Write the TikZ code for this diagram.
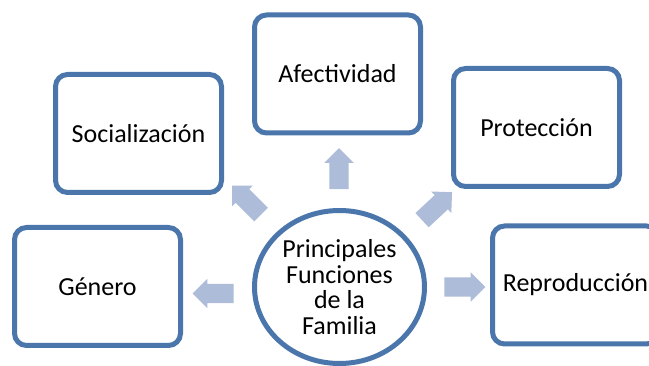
\documentclass[tikz,border=0pt]{standalone}
\usepackage{fontspec}
\setmainfont{Carlito}
\usetikzlibrary{shapes.geometric,shapes.arrows}
\definecolor{borde}{RGB}{74,118,172}
\definecolor{flecha}{RGB}{172,188,217}
\begin{document}
\begin{tikzpicture}[x=1pt,y=-1pt, line join=round,
	font=\fontsize{26}{25.7}\selectfont,
	funcion/.style={draw=borde, line width=5pt, rounded corners=12pt, fill=white,
		minimum width=166pt, minimum height=118pt, inner sep=0pt},
	centro/.style={draw=borde, line width=5pt, ellipse, fill=white, align=center,
		minimum width=170pt, minimum height=153pt, inner sep=0pt},
	bloque/.style={single arrow, fill=flecha, draw=none, inner xsep=0pt, inner ysep=9.5pt,
		minimum height=41pt, single arrow head extend=5pt}]
	\useasboundingbox (0,0) rectangle (649,366);
	\foreach \n/\x/\y/\t in {soc/138.5/133.5/Socialización, afe/337.5/74/Afectividad,
		pro/536.5/127.5/Protección, gen/97.5/286.5/Género, rep/575.5/285/Reproducción}{
		\node[funcion] (\n) at (\x,\y) {\t};}
	\node[centro] (fam) at (339.5,287) {Principales\\Funciones\\de la\\Familia};
	% flechas hacia cada funcion
	\foreach \n/\x/\y/\a in {fsoc/250/203.5/135, fafe/339/173.5/90, fpro/433.5/209.5/43,
		fgen/218/293.5/180, frep/460/287/0}{
		\node[bloque, rotate=\a] (\n) at (\x,\y) {};}
\end{tikzpicture}
\end{document}
